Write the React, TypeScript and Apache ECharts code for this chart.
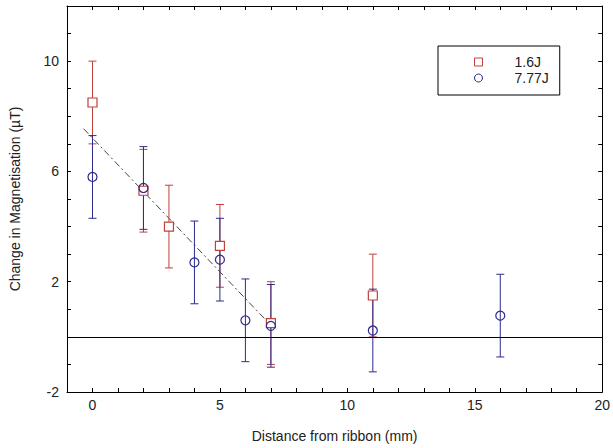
import React, { useEffect, useRef } from "react";
import * as echarts from "echarts";

const xLow = [0, 2, 3, 5, 7, 11];
const yLow = [8.5, 5.3, 4.0, 3.3, 0.5, 1.5];
const errLow = [1.5, 1.5, 1.5, 1.5, 1.5, 1.5];

const xHigh = [0, 2, 4, 5, 6, 7, 11, 16];
const yHigh = [5.8, 5.4, 2.7, 2.8, 0.6, 0.4, 0.23, 0.77];
const errHigh = [1.5, 1.5, 1.5, 1.5, 1.5, 1.5, 1.5, 1.5];

const fitX = [-0.35, 6.75];
const fitY = [7.55, 0.66];

const RED = "#c0403c";
const BLUE = "#2b2b8f";
const FONT = "Liberation Sans, Arial, sans-serif";

function errorSeries(xs: number[], ys: number[], es: number[], color: string, name: string) {
  return {
    type: "custom",
    name,
    data: xs.map((x, i) => [x, ys[i] - es[i], ys[i] + es[i]]),
    encode: { x: 0, y: [1, 2] },
    silent: true,
    z: 2,
    renderItem: (params: any, api: any) => {
      const x = api.value(0);
      const lo = api.coord([x, api.value(1)]);
      const hi = api.coord([x, api.value(2)]);
      const w = 4;
      const style = { stroke: color, lineWidth: 1, fill: "none" };
      return {
        type: "group",
        children: [
          { type: "line", shape: { x1: lo[0], y1: lo[1], x2: hi[0], y2: hi[1] }, style },
          { type: "line", shape: { x1: lo[0] - w, y1: lo[1], x2: lo[0] + w, y2: lo[1] }, style },
          { type: "line", shape: { x1: hi[0] - w, y1: hi[1], x2: hi[0] + w, y2: hi[1] }, style },
        ],
      };
    },
  };
}

export default function App() {
  const ref = useRef<HTMLDivElement>(null);
  useEffect(() => {
    if (!ref.current) return;
    const chart = echarts.init(ref.current, null, { renderer: "svg" });
    const axisLine = { show: true, onZero: false, lineStyle: { color: "#000", width: 1 } };
    const tick = { show: true, inside: true, length: 4, lineStyle: { color: "#000" } };
    chart.setOption({
      animation: false,
      backgroundColor: "#fff",
      textStyle: { fontFamily: FONT },
      grid: { left: 65, right: 7, top: 6, bottom: 55 },
      legend: {
        data: [
          { name: "1.6J", icon: "rect", itemStyle: { color: "transparent", borderColor: RED, borderWidth: 1 } },
          { name: "7.77J", icon: "circle", itemStyle: { color: "transparent", borderColor: BLUE, borderWidth: 1 } },
        ],
        orient: "vertical",
        left: 438,
        top: 46,
        itemWidth: 8,
        itemHeight: 8,
        itemGap: 2,
        padding: [9, 11, 10, 36],
        borderColor: "#000",
        borderWidth: 1,
        backgroundColor: "#fff",
        textStyle: { fontSize: 14, color: "#222", fontFamily: FONT, lineHeight: 14, padding: [0, 0, 0, 27] },
      },
      xAxis: [
        {
          type: "value",
          min: -1,
          max: 20,
          interval: 1,
          name: "Distance from ribbon (mm)",
          nameLocation: "middle",
          nameGap: 37,
          nameTextStyle: { fontSize: 14, color: "#222", fontFamily: FONT },
          axisLine,
          axisTick: tick,
          axisLabel: {
            fontSize: 14,
            color: "#222",
            margin: 6,
            fontFamily: FONT,
            formatter: (v: number) => (v % 5 === 0 ? String(v) : ""),
          },
          splitLine: { show: false },
        },
        {
          type: "value",
          position: "top",
          min: -1,
          max: 20,
          interval: 1,
          axisLine,
          axisTick: tick,
          axisLabel: { show: false },
          splitLine: { show: false },
        },
      ],
      yAxis: [
        {
          type: "value",
          min: -2,
          max: 12,
          interval: 1,
          name: "Change in Magnetisation (\u00b5T)",
          nameLocation: "middle",
          nameGap: 45,
          nameTextStyle: { fontSize: 14, color: "#222", fontFamily: FONT },
          axisLine,
          axisTick: tick,
          axisLabel: {
            fontSize: 14,
            color: "#222",
            margin: 8,
            fontFamily: FONT,
            formatter: (v: number) => ((v + 2) % 4 === 0 && v < 12 ? String(v) : ""),
          },
          splitLine: { show: false },
        },
        {
          type: "value",
          position: "right",
          min: -2,
          max: 12,
          interval: 1,
          axisLine,
          axisTick: tick,
          axisLabel: { show: false },
          splitLine: { show: false },
        },
      ],
      series: [
        {
          type: "line",
          name: "zero",
          data: [],
          markLine: {
            silent: true,
            symbol: ["none", "none"],
            label: { show: false },
            lineStyle: { color: "#000", width: 1, type: "solid" },
            data: [{ yAxis: 0 }],
          },
        },
        {
          type: "line",
          name: "fit",
          data: fitX.map((x, i) => [x, fitY[i]]),
          symbol: "none",
          lineStyle: { color: "#444", width: 1, type: [7, 3, 2, 3] },
          z: 1,
        },
        errorSeries(xLow, yLow, errLow, RED, "err16"),
        errorSeries(xHigh, yHigh, errHigh, BLUE, "err777"),
        {
          type: "scatter",
          name: "1.6J",
          data: xLow.map((x, i) => [x, yLow[i]]),
          symbol: "rect",
          symbolSize: 9,
          itemStyle: { color: "#fff", borderColor: RED, borderWidth: 1.2, opacity: 1 },
          z: 3,
        },
        {
          type: "scatter",
          name: "7.77J",
          data: xHigh.map((x, i) => [x, yHigh[i]]),
          symbol: "circle",
          symbolSize: 9,
          itemStyle: { color: "transparent", borderColor: BLUE, borderWidth: 1.2, opacity: 1 },
          z: 4,
        },
      ],
    });
    return () => chart.dispose();
  }, []);
  return <div ref={ref} style={{ position: "fixed", left: 0, top: 0, width: 613, height: 448 }} />;
}
